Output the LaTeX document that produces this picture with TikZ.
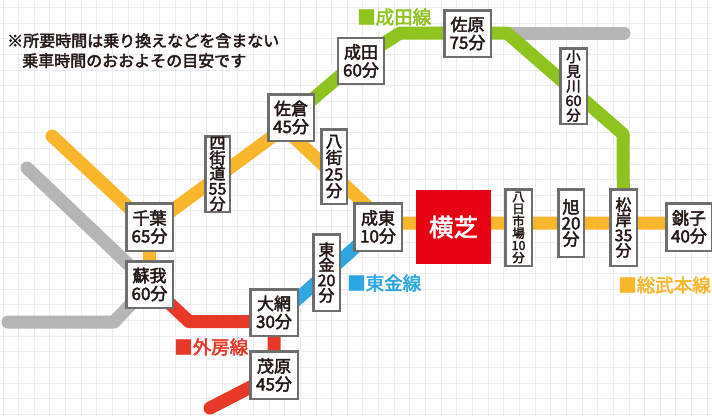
\documentclass[tikz,border=0pt]{standalone}
\usepackage{fontspec}
\setmainfont{Noto Sans CJK JP}[RawFeature={embolden=2.5}]
\definecolor{sobu}{HTML}{F8B62D}
\definecolor{naritac}{HTML}{8FC31F}
\definecolor{sotobo}{HTML}{E83828}
\definecolor{toganec}{HTML}{2EA7E0}
\definecolor{rgray}{HTML}{B5B5B5}
\definecolor{yred}{HTML}{E60012}
\definecolor{boxgray}{HTML}{6E6E6E}
\definecolor{txt}{HTML}{231815}
\definecolor{gridc}{HTML}{EBEBF0}
\pgfdeclarelayer{gridlayer}
\pgfdeclarelayer{raillayer}
\pgfsetlayers{gridlayer,raillayer,main}
\tikzset{
  rail/.style={line width=13pt, line join=round},
  stn/.style={draw=boxgray, line width=2.5pt, fill=white, inner sep=0pt, align=center, text=txt},
  two/.style={stn, font=\fontsize{17}{18}\selectfont},
  vert/.style={stn, font=\fontsize{16}{15.2}\selectfont},
  linelabel/.style={anchor=west, inner sep=0pt, font=\fontsize{18.5}{19}\selectfont},
}
\begin{document}
\begin{tikzpicture}[x=1pt,y=-1pt]
\useasboundingbox (0,0) rectangle (712,416);
\begin{pgfonlayer}{gridlayer}
\fill[white] (0,0) rectangle (712,416);
\foreach \i in {0,...,45} \draw[gridc, line width=1pt] ({3+\i*15.65},0) -- ({3+\i*15.65},416);
\foreach \j in {0,...,26} \draw[gridc, line width=1pt] (0,{7.5+\j*15.65}) -- (712,{7.5+\j*15.65});
\end{pgfonlayer}

% stations
\node[two, minimum width=46, minimum height=46] (narita) at (361,61) {成田\\60分};
\node[two, minimum width=46.5, minimum height=46.5] (sawara) at (467.5,33.5) {佐原\\75分};
\node[vert, font=\fontsize{14.5}{14.6}\selectfont, minimum width=26.5, minimum height=75.5] (omigawa) at (573.5,86) {小\\見\\川\\60\\分};
\node[two, minimum width=45.5, minimum height=46.5] (sakura) at (291,117.5) {佐倉\\45分};
\node[vert, minimum width=24.5, minimum height=75.5] (yotsukaido) at (217.5,174) {四\\街\\道\\55\\分};
\node[vert, font=\fontsize{16.5}{16.5}\selectfont, minimum width=25.5, minimum height=74.5] (yachimata) at (334,166.5) {八\\街\\25\\分};
\node[two, minimum width=46.5, minimum height=47.5] (chiba) at (149.5,227) {千葉\\65分};
\node[two, minimum width=46.5, minimum height=46.5] (soga) at (149.5,284.5) {蘇我\\60分};
\node[two, minimum width=47.5, minimum height=46.5] (oami) at (274,312.5) {大網\\30分};
\node[two, minimum width=47.5, minimum height=47.5] (mobara) at (274,375) {茂原\\45分};
\node[vert, minimum width=26.5, minimum height=76.5] (togane) at (326.5,272.5) {東\\金\\20\\分};
\node[two, minimum width=47.5, minimum height=47.5] (naruto) at (378,227) {成東\\10分};
\node[fill=yred, text=white, inner sep=0pt, minimum width=75, minimum height=74, font=\fontsize{24.5}{25}\selectfont] (yokoshiba) at (453.5,227) {横芝};
\node[vert, font=\fontsize{12.5}{12.2}\selectfont, minimum width=26.5, minimum height=76.5] (yokaichiba) at (518.5,227.5) {八\\日\\市\\場\\10\\分};
\node[vert, font=\fontsize{17}{16}\selectfont, minimum width=25.5, minimum height=67.5] (asahi) at (571,223) {旭\\20\\分};
\node[vert, minimum width=26.5, minimum height=76.5] (matsugishi) at (623.5,227.5) {松\\岸\\35\\分};
\node[two, minimum width=45.5, minimum height=47.5] (choshi) at (689,227) {銚子\\40分};

% free points
\coordinate (gA) at (27,168);
\coordinate (gB) at (8,322);
\coordinate (gC) at (114,322);
\coordinate (gD) at (507,33);
\coordinate (gE) at (624,33);
\coordinate (oA) at (52,136);
\coordinate (oB) at (284,128);
\coordinate (oC) at (385,223);
\coordinate (oD) at (712,223);
\coordinate (nA) at (361,58);
\coordinate (nB) at (400,33);
\coordinate (nC) at (623,134);
\coordinate (rA) at (189,321.5);
\coordinate (rB) at (274,321.5);
\coordinate (rC) at (210,408);
\coordinate (bA) at (274,320);

\begin{pgfonlayer}{raillayer}
\draw[rail, rgray, line cap=round] (gA) -- (soga.center);
\draw[rail, rgray, line cap=round] (gB) -- (gC) -- (soga.center);
\draw[rail, rgray, line cap=round] (gD) -- (gE);
\draw[rail, sobu, line cap=round] (oA) -- (chiba.center);
\draw[rail, sobu] (chiba.center) -- (soga.center);
\draw[rail, sobu] (chiba.center) -- (oB) -- (oC) -- (oD);
\draw[rail, naritac] (sakura.center) -- (nA) -- (nB) -- (gD) -- (nC) -- (matsugishi.center);
\draw[rail, sotobo] (soga.center) -- (rA) -- (rB) -- (oami.center);
\draw[rail, sotobo, line cap=round] (oami.center) -- (mobara.center) -- (rC);
\draw[rail, toganec] (bA) -- (naruto.center);
\end{pgfonlayer}

% line labels
\node[linelabel, text=naritac] (lnarita) at (357,17) {■成田線};
\node[linelabel, text=toganec] (ltogane) at (347,283) {■東金線};
\node[linelabel, text=sobu] (lsobu) at (618,285) {■総武本線};
\node[linelabel, text=sotobo] (lsotobo) at (174,347) {■外房線};

% note
\node[anchor=north west, inner sep=0pt, align=left, text=txt, font=\fontsize{16}{20}\selectfont] (note) at (7,33) {※所要時間は乗り換えなどを含まない\\\hspace*{15pt}乗車時間のおおよその目安です};
\end{tikzpicture}
\end{document}
